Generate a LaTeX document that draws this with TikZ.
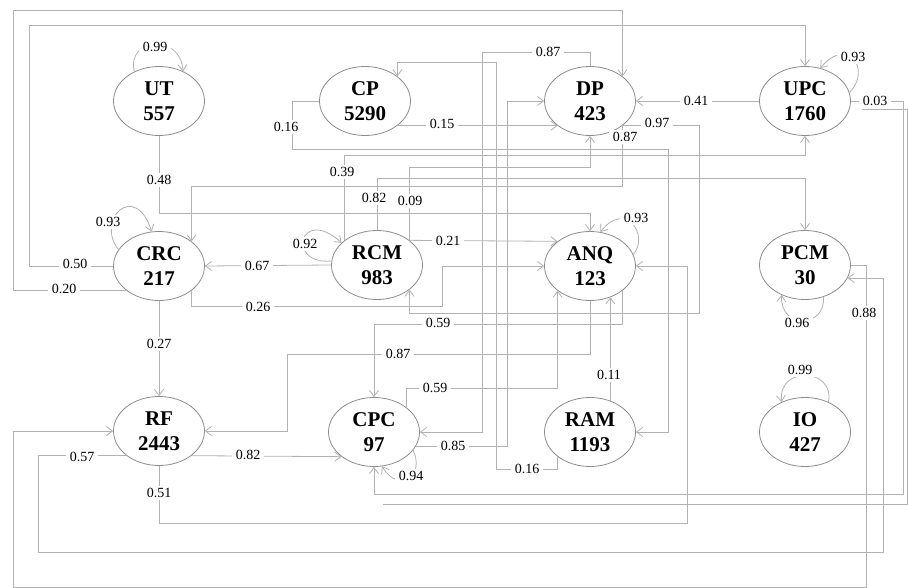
\documentclass[tikz,border=0pt]{standalone}
\usepackage{fontspec}
\setmainfont{Liberation Serif}
\usetikzlibrary{shapes.geometric,arrows.meta,calc}
\begin{document}
\begin{tikzpicture}[x=1pt,y=-1pt,
  state/.style={ellipse,draw=black!45,line width=0.8pt,fill=white,minimum width=91pt,minimum height=69pt,inner sep=0pt,align=center,font=\fontsize{21}{25}\selectfont\bfseries},
  conn/.style={draw=black!30,line width=0.8pt},
  arr/.style={conn,-{Straight Barb[length=6pt,width=9pt]}},
  lbl/.style={fill=white,inner xsep=4pt,inner ysep=2pt,font=\fontsize{14}{14}\selectfont}
]
\useasboundingbox (0,0) rectangle (908,588);
\fill[white] (0,0) rectangle (908,588);

% nodes
\node[state] (UT)  at (159,101) {UT\\557};
\node[state] (CP)  at (365,101) {CP\\5290};
\node[state] (DP)  at (590,101) {DP\\423};
\node[state] (UPC) at (805,101) {UPC\\1760};
\node[state] (CRC) at (159,266) {CRC\\217};
\node[state] (RCM) at (377,265) {RCM\\983};
\node[state] (ANQ) at (590,266) {ANQ\\123};
\node[state] (PCM) at (805,265) {PCM\\30};
\node[state] (RF)  at (159,431) {RF\\2443};
\node[state] (CPC) at (374,432) {CPC\\97};
\node[state] (RAM) at (590,432) {RAM\\1193};
\node[state] (IO)  at (805,432) {IO\\427};

% connectors
\draw[arr] (UT.south) -- (UT.south |- 0,213) -| (ANQ.north);
\draw[arr] (CRC.south west) -| (13,10) -| (DP.north east);
\draw[arr] (CRC.west) -| (29,25) -| (UPC.north);
\draw[arr] (DP.south east) -- (DP.south east |- 0,186) -| (CRC.north east);
\draw[arr] (DP.north) |- (482,52) |- (CPC.east);
\draw[arr] (CPC.-19) -- (CPC.-19 -| 507,0) |- (DP.west);
\draw[arr] (RAM.south west) |- (496,469) |- (CP.north east |- 0,62) -- (CP.north east);
\draw[arr] (CP.west) -| (292,149) -| (RAM.east -| 668,0) -- (RAM.east);
\draw[arr] (CP.south east) -- (DP.south west);
\draw[arr] (UPC.west) -- (DP.east);
\draw[arr] (UPC.east) -| (903,494) -| (CPC.south);
\coordinate (s1) at (862,109);
\coordinate (s2) at (383,504);
\draw[conn] (s1) -| (907,504) -- (s2);
\draw[arr] (DP.south east) -| (699,313) -| (RCM.south east);
\draw[arr] (RCM.north) |- (PCM.north |- 0,178) -- (PCM.north);
\draw[arr] (RCM.north east) |- (DP.south |- 0,167) -- (DP.south);
\draw[arr] (RCM.north west) |- (UPC.south |- 0,155) -- (UPC.south);
\draw[arr] (RCM.north east) -- (ANQ.north west);
\draw[arr] (RCM.west) -- (CRC.east);
\draw[arr] (CRC.south east) |- (442,306) |- (ANQ.west);
\draw[arr] (CRC.south) -- (RF.north);
\draw[arr] (ANQ.south east) |- (CPC.north |- 0,324) -- (CPC.north);
\draw[arr] (CPC.north east) |- (ANQ.south west |- 0,388) -- (ANQ.south west);
\draw[arr] (ANQ.south) |- (287,354) |- (RF.east);
\draw[arr] (RAM.57) -- (ANQ.-57);
\draw[arr] (RF.south) |- (687,523) |- (ANQ.east);
\draw[arr] (RF.south east) -- (CPC.south west);
\draw[arr] (RF.south west) -| (38,552) -| (PCM.-17 -| 883,0) -- (PCM.-17);
\draw[arr] (PCM.east) -| (866,587) -| (RF.west -| 13,0) -- (RF.west);

% self loops
\draw[arr] (UT.130) .. controls (126,38) and (180,32) .. (UT.51);
\draw[arr] (CRC.158) .. controls (95,220) and (135,180) .. (CRC.102);
\draw[arr] (RCM.175) .. controls (285,265) and (300,205) .. (RCM.148);
\draw[arr] (ANQ.15) .. controls (650,235) and (625,200) .. (ANQ.73);
\draw[arr] (UPC.11) .. controls (872,70) and (848,35) .. (UPC.65);
\draw[arr] (PCM.-60) .. controls (826,328) and (780,330) .. (PCM.-128);
\draw[arr] (IO.52) .. controls (835,368) and (778,365) .. (IO.128);
\draw[arr] (CPC.-25) .. controls (425,475) and (400,495) .. (CPC.-77);

% labels
\node[lbl] (lUT)     at (155,47)  {0.99};
\node[lbl] (lTop)    at (548,52)  {0.87};
\node[lbl] (lUPC)    at (853,57)  {0.93};
\node[lbl] (lCP)     at (286,127) {0.16};
\node[lbl] (lCPDP)   at (442,124) {0.15};
\node[lbl] (lUPCDP)  at (696,101) {0.41};
\node[lbl] (lUPCCPC) at (875,101) {0.03};
\node[lbl] (lDPRCM)  at (657,123) {0.97};
\node[lbl] (lDPCRC)  at (625,137) {0.87};
\node[lbl] (lUTANQ)  at (159,180) {0.48};
\node[lbl] (lRCMUPC) at (342,172) {0.39};
\node[lbl] (lRCMPCM) at (374,198) {0.82};
\node[lbl] (lRCMDP)  at (410,201) {0.09};
\node[lbl] (lCRC)    at (108,222) {0.93};
\node[lbl] (lRCM)    at (305,244) {0.92};
\node[lbl] (lRCMANQ) at (448,241) {0.21};
\node[lbl] (lANQ)    at (636,218) {0.93};
\node[lbl] (lCRCUPC) at (75,264)  {0.50};
\node[lbl] (lRCMCRC) at (257,266) {0.67};
\node[lbl] (lCRCDP)  at (64,289)  {0.20};
\node[lbl] (lCRCANQ) at (258,307) {0.26};
\node[lbl] (lANQCPC) at (438,323) {0.59};
\node[lbl] (lPCM)    at (797,323) {0.96};
\node[lbl] (lPCMRF)  at (864,313) {0.88};
\node[lbl] (lCRCRF)  at (159,344) {0.27};
\node[lbl] (lANQRF)  at (398,354) {0.87};
\node[lbl] (lCPCANQ) at (435,388) {0.59};
\node[lbl] (lRAMANQ) at (609,375) {0.11};
\node[lbl] (lIO)     at (800,370) {0.99};
\node[lbl] (lRFPCM)  at (82,457)  {0.57};
\node[lbl] (lRFCPC)  at (248,455) {0.82};
\node[lbl] (lCPCDP)  at (453,446) {0.85};
\node[lbl] (lRAMCP)  at (527,469) {0.16};
\node[lbl] (lCPC)    at (411,476) {0.94};
\node[lbl] (lRFANQ)  at (159,493) {0.51};
\end{tikzpicture}
\end{document}
